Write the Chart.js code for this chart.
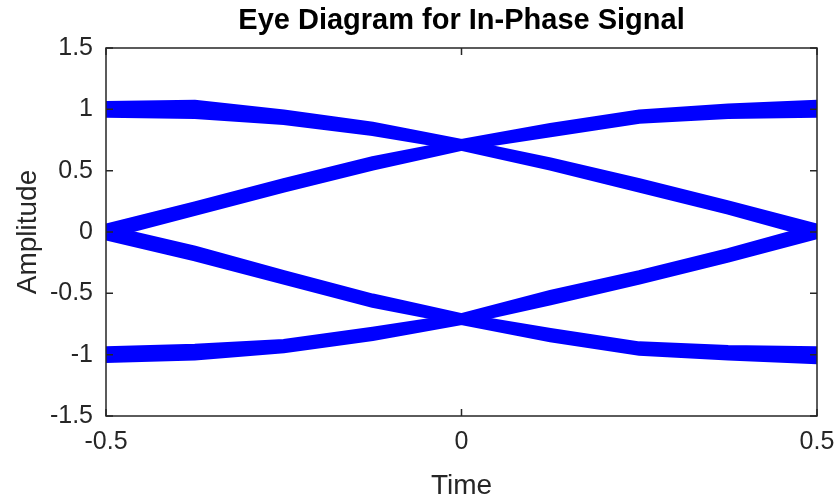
<!DOCTYPE html>
<html>
<head>
<meta charset="utf-8">
<script src="https://cdn.jsdelivr.net/npm/chart.js@4/dist/chart.umd.min.js"></script>
<style>
  body { margin: 0; background: #fff; }
  #eye { display: block; }
</style>
</head>
<body>
<canvas id="eye" width="837" height="504"></canvas>
<script>
// sample instants within one symbol (8 samples per symbol)
const times = [-0.5, -0.375, -0.25, -0.125, 0, 0.125, 0.25, 0.375, 0.5];
const xTicks = [-0.5, 0, 0.5];
const yTicks = [-1.5, -1, -0.5, 0, 0.5, 1, 1.5];

// traces going from +1 down to 0
const highToZero1 = [1.04, 1.05, 0.97, 0.87, 0.73, 0.58, 0.41, 0.23, 0.04];
const highToZero2 = [1.01, 1.01, 0.95, 0.85, 0.72, 0.57, 0.39, 0.21, 0.02];
const highToZero3 = [0.99, 0.98, 0.92, 0.83, 0.70, 0.55, 0.37, 0.19, -0.01];
const highToZero4 = [0.96, 0.95, 0.90, 0.81, 0.69, 0.53, 0.35, 0.17, -0.03];

// traces going from 0 up to +1
const zeroToHigh1 = [0.04, 0.22, 0.41, 0.59, 0.73, 0.86, 0.97, 1.02, 1.05];
const zeroToHigh2 = [0.02, 0.20, 0.39, 0.57, 0.72, 0.84, 0.95, 0.99, 1.02];
const zeroToHigh3 = [-0.01, 0.18, 0.37, 0.55, 0.70, 0.82, 0.93, 0.97, 0.99];
const zeroToHigh4 = [-0.03, 0.16, 0.35, 0.53, 0.69, 0.80, 0.91, 0.95, 0.96];

// traces going from 0 down to -1
const zeroToLow1 = [0.03, -0.14, -0.34, -0.53, -0.69, -0.81, -0.92, -0.95, -0.96];
const zeroToLow2 = [0.01, -0.17, -0.36, -0.55, -0.70, -0.83, -0.94, -0.97, -0.99];
const zeroToLow3 = [-0.02, -0.19, -0.38, -0.57, -0.72, -0.85, -0.96, -1.00, -1.02];
const zeroToLow4 = [-0.04, -0.21, -0.40, -0.59, -0.73, -0.87, -0.98, -1.02, -1.05];

// traces going from -1 up to 0
const lowToZero1 = [-0.96, -0.94, -0.90, -0.80, -0.69, -0.50, -0.34, -0.16, 0.04];
const lowToZero2 = [-0.99, -0.97, -0.92, -0.82, -0.70, -0.53, -0.36, -0.18, 0.02];
const lowToZero3 = [-1.01, -0.99, -0.94, -0.84, -0.72, -0.55, -0.38, -0.20, -0.01];
const lowToZero4 = [-1.04, -1.02, -0.96, -0.86, -0.73, -0.57, -0.40, -0.22, -0.03];

const traces = [
    highToZero1, highToZero2, highToZero3, highToZero4,
    zeroToHigh1, zeroToHigh2, zeroToHigh3, zeroToHigh4,
    zeroToLow1, zeroToLow2, zeroToLow3, zeroToLow4,
    lowToZero1, lowToZero2, lowToZero3, lowToZero4
];

const axisColor = '#262626';
const fontFamily = "'Liberation Sans', Arial, Helvetica, sans-serif";

// draws the closed axes box with inward tick marks
const boxPlugin = {
    id: 'box',
    afterDatasetsDraw(chart) {
        let ctx = chart.ctx;
        let area = chart.chartArea;
        let xs = chart.scales.x;
        let ys = chart.scales.y;
        let len = 7;
        ctx.save();
        ctx.strokeStyle = axisColor;
        ctx.lineWidth = 1.5;
        ctx.strokeRect(area.left, area.top, area.right - area.left, area.bottom - area.top);
        ctx.beginPath();
        xTicks.forEach(function (t) {
            let px = xs.getPixelForValue(t);
            ctx.moveTo(px, area.bottom);
            ctx.lineTo(px, area.bottom - len);
            ctx.moveTo(px, area.top);
            ctx.lineTo(px, area.top + len);
        });
        yTicks.forEach(function (t) {
            let py = ys.getPixelForValue(t);
            ctx.moveTo(area.left, py);
            ctx.lineTo(area.left + len, py);
            ctx.moveTo(area.right, py);
            ctx.lineTo(area.right - len, py);
        });
        ctx.stroke();
        ctx.restore();
    }
};

let datasets = traces.map(function (vals) {
    return {
        data: vals.map(function (v, i) { return { x: times[i], y: v }; }),
        borderColor: '#0000ff',
        borderWidth: 7,
        pointRadius: 0,
        tension: 0,
        fill: false,
        clip: 0
    };
});

new Chart(document.getElementById('eye').getContext('2d'), {
    type: 'line',
    data: { datasets: datasets },
    options: {
        responsive: false,
        animation: false,
        devicePixelRatio: 1,
        layout: { padding: { left: 0, right: 20, top: 0, bottom: 0 } },
        plugins: {
            legend: { display: false },
            tooltip: { enabled: false },
            title: {
                display: true,
                fullSize: false,
                text: 'Eye Diagram for In-Phase Signal',
                color: '#000',
                font: { family: fontFamily, size: 29, weight: 'bold' },
                padding: { top: 4, bottom: 9.2 }
            }
        },
        scales: {
            x: {
                type: 'linear',
                min: -0.5,
                max: 0.5,
                afterBuildTicks: function (scale) {
                    scale.ticks = xTicks.map(function (v) { return { value: v }; });
                },
                afterFit: function (scale) {
                    scale.height = 88;
                    scale.paddingLeft = 0;
                    scale.paddingRight = 0;
                },
                grid: { display: false, drawTicks: false },
                border: { display: false },
                ticks: {
                    color: axisColor,
                    padding: 11,
                    maxRotation: 0,
                    font: { family: fontFamily, size: 25 },
                    callback: function (v) { return String(v); }
                },
                title: {
                    display: true,
                    text: 'Time',
                    color: axisColor,
                    font: { family: fontFamily, size: 28 },
                    padding: { top: 0, bottom: 1 }
                }
            },
            y: {
                type: 'linear',
                min: -1.5,
                max: 1.5,
                afterBuildTicks: function (scale) {
                    scale.ticks = yTicks.map(function (v) { return { value: v }; });
                },
                afterFit: function (scale) { scale.width = 106; },
                grid: { display: false, drawTicks: false },
                border: { display: false },
                ticks: {
                    color: axisColor,
                    padding: 13,
                    font: { family: fontFamily, size: 25 },
                    callback: function (v) { return String(v); }
                },
                title: {
                    display: true,
                    text: 'Amplitude',
                    color: axisColor,
                    font: { family: fontFamily, size: 28 },
                    padding: { top: 11, bottom: 0 }
                }
            }
        }
    },
    plugins: [boxPlugin]
});
</script>
</body>
</html>
